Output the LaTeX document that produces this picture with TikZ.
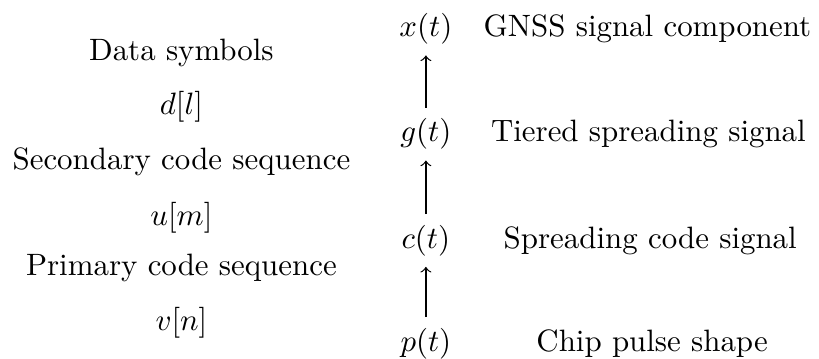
\documentclass[tikz,border=0pt]{standalone}
\begin{document}
\begin{tikzpicture}[x=1pt,y=1pt,
  lbl/.style={anchor=base,inner sep=0pt},
  sig/.style={anchor=base,inner sep=3.33pt},
  up/.style={->,line width=0.4pt}]
\useasboundingbox (0,0) rectangle (265,-115.9);
% left column
\node[lbl] (ds) at (58.7,-19.7) {Data symbols};
\node[lbl] (dl) at (58.7,-36.9) {$d[l]$};
\node[lbl] (sc) at (58.7,-55.0) {Secondary code sequence};
\node[lbl] (um) at (58.7,-72.8) {$u[m]$};
\node[lbl] (pc) at (58.7,-89.0) {Primary code sequence};
\node[lbl] (vn) at (58.7,-106.8) {$v[n]$};
% signal column
\node[sig] (x) at (137.8,-11.9) {$x(t)$};
\node[sig] (g) at (137.8,-45.9) {$g(t)$};
\node[sig] (c) at (137.8,-80.3) {$c(t)$};
\node[sig] (p) at (137.8,-113.6) {$p(t)$};
% labels
\node[lbl] (xl) at (209.5,-11.9) {GNSS signal component};
\node[lbl] (gl) at (209.8,-45.9) {Tiered spreading signal};
\node[lbl] (cl) at (210.4,-80.3) {Spreading code signal};
\node[lbl] (pl) at (211,-113.6) {Chip pulse shape};
% arrows
\draw[up] (g.north) -- (x.south);
\draw[up] (c.north) -- (g.south);
\draw[up] (p.north) -- (c.south);
\end{tikzpicture}
\end{document}
